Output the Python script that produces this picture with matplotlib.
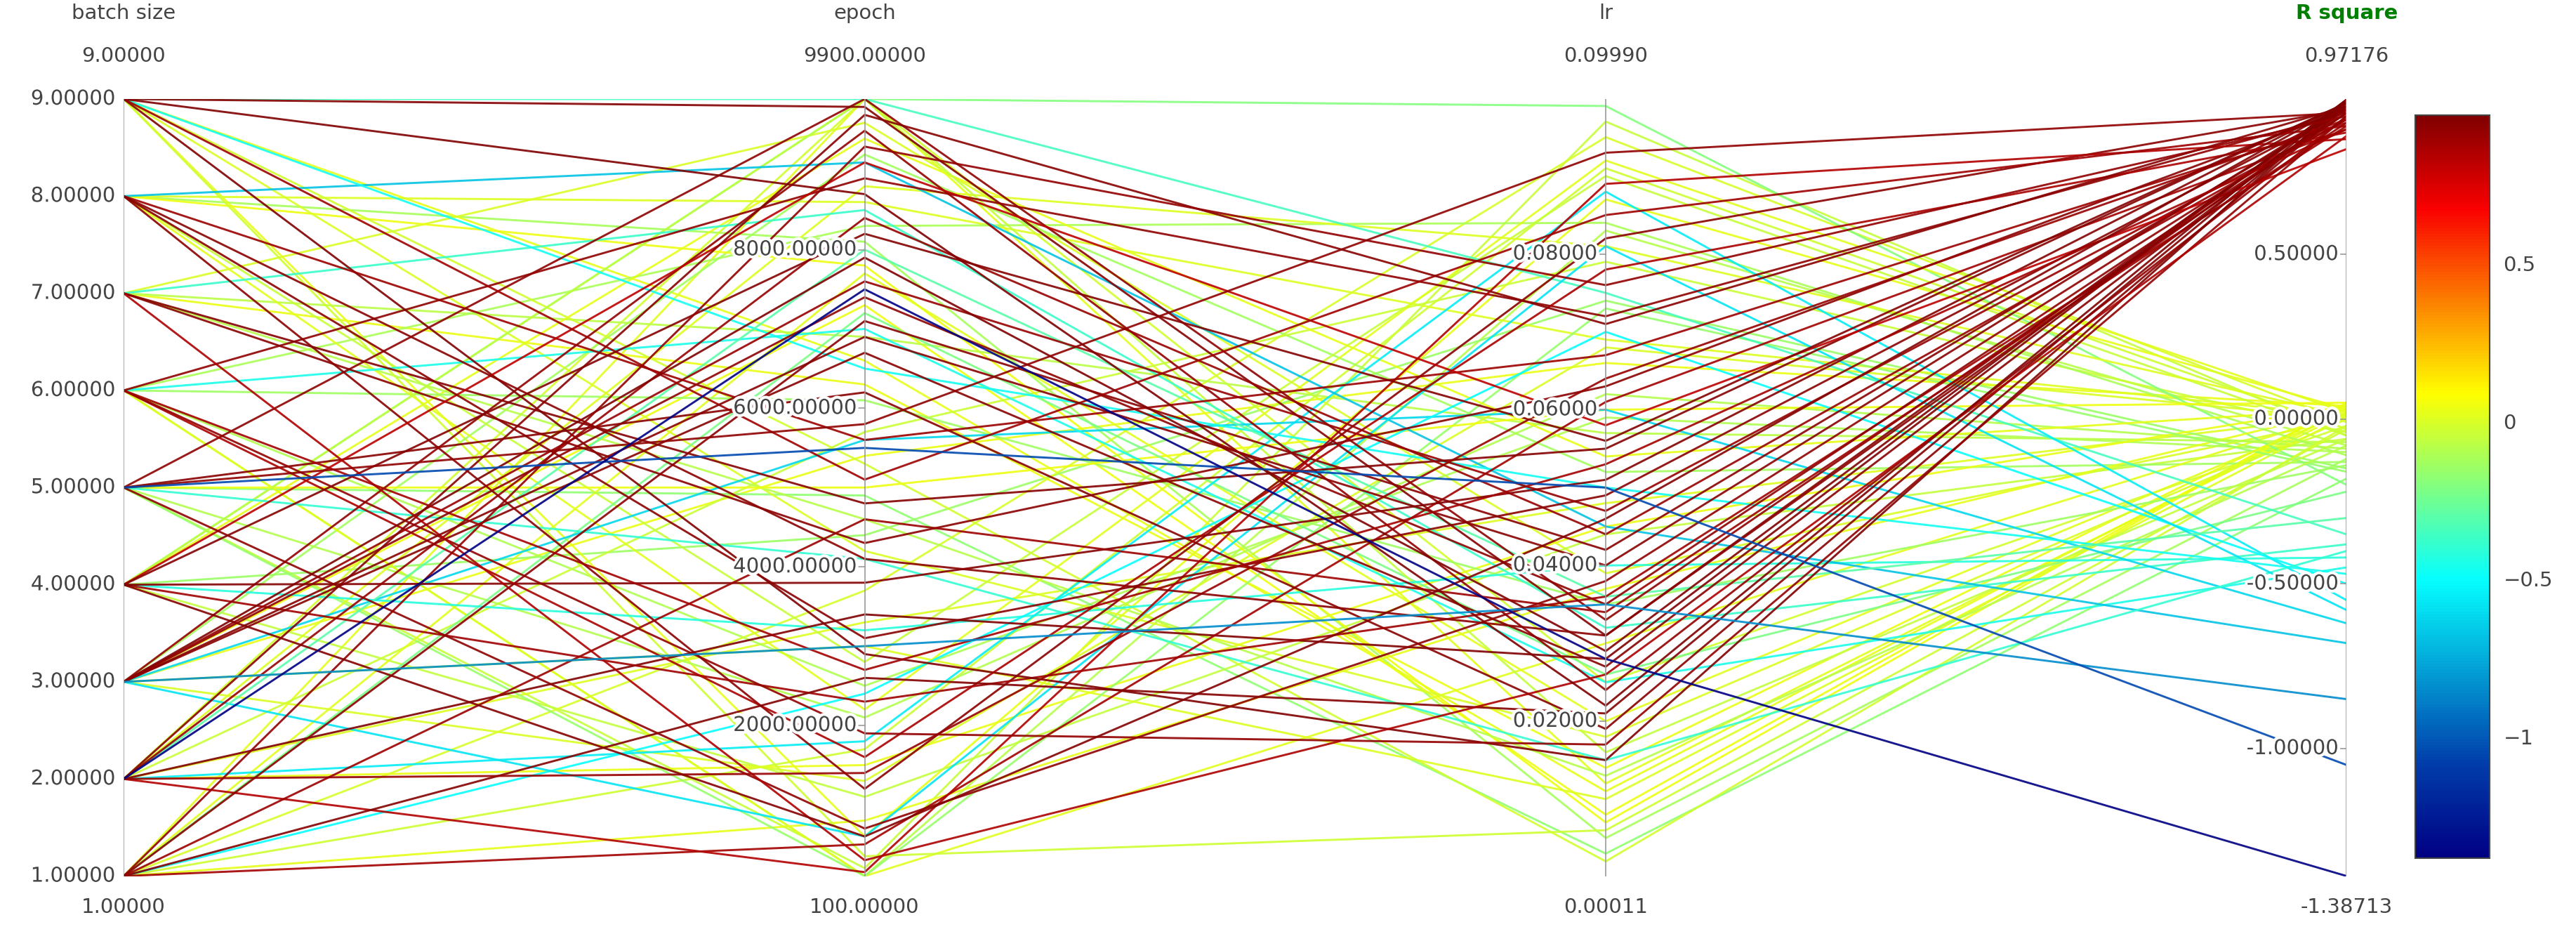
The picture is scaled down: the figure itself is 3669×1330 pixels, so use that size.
import matplotlib
matplotlib.use("Agg")
import matplotlib.pyplot as plt
import matplotlib.patheffects as pe
from matplotlib.colors import LinearSegmentedColormap, Normalize
import numpy as np

dims = ["batch size", "epoch", "lr", "R square"]
ranges = [(1.0, 9.0), (100.0, 9900.0), (0.00011, 0.0999), (-1.38713, 0.97176)]
ticks = [[2, 3, 4, 5, 6, 7, 8], [2000, 4000, 6000, 8000], [0.02, 0.04, 0.06, 0.08], [0.5, 0.0, -0.5, -1.0]]

batch = [9,8,3,2,1,5,6,4,7,3, 2,1,9,8,5,4,6,3,2,7, 1,4,5,9,3,8,6,2,1,4, 7,5,3,2,9,6,8,1,4,3,
         1,5,3,8,2,6,9,4,7,1, 3,6,2,9,5,8,4,7,1,3, 6,2,8,5,9,4,1,7,3,6, 2,9,5,1,8,4,7,3,6,2, 9,5,1,8,4,
         9,4,2,7,3,6,1,8,5,3,9,2,
         3,5,2]
epoch = [9800,1200,7600,3400,500,6200,8900,2300,4800,9500, 150,7100,2900,5600,9900,3800,1600,6700,8400,4300,
         2600,9100,700,5100,7900,3100,1900,9700,4600,8200, 300,5800,6900,1400,8700,2700,4100,9300,600,7400,
         9900,200,5400,8100,3300,100,6600,4400,9600,1700, 7300,2500,9900,600,4900,8600,1100,6300,3700,9200,
         100,5700,7800,2100,4200,9900,800,6900,3000,8300, 1500,5300,100,7700,2800,9400,4600,1300,6100,8800,
         350,5000,7200,2200,9900,
         9900,3200,1800,8500,5600,7000,2400,9100,4100,600,6500,8000,
         3000,5500,7500]
lr = [0.031,0.082,0.047,0.028,0.061,0.019,0.072,0.036,0.055,0.024, 0.089,0.042,0.015,0.067,0.033,0.051,0.078,0.027,0.044,0.063,
      0.021,0.058,0.038,0.085,0.029,0.049,0.017,0.071,0.034,0.056, 0.026,0.093,0.040,0.064,0.022,0.053,0.031,0.076,0.046,0.035,
      0.012,0.097,0.066,0.005,0.048,0.083,0.011,0.074,0.039,0.091, 0.008,0.059,0.025,0.087,0.003,0.069,0.044,0.014,0.095,0.052,
      0.030,0.079,0.007,0.062,0.018,0.099,0.037,0.057,0.010,0.084, 0.045,0.002,0.073,0.020,0.090,0.054,0.013,0.068,0.035,0.081,
      0.006,0.060,0.026,0.092,0.016,
      0.075,0.040,0.088,0.032,0.060,0.025,0.070,0.045,0.015,0.081,0.050,0.036,
      0.035,0.050,0.028]
r2 = [0.96,0.94,0.91,0.97,0.88,0.95,0.93,0.89,0.96,0.92, 0.85,0.94,0.97,0.90,0.93,0.96,0.87,0.95,0.91,0.94,
      0.96,0.82,0.93,0.89,0.97,0.94,0.92,0.95,0.90,0.96, 0.86,0.93,0.95,0.91,0.97,0.88,0.94,0.92,0.96,0.93,
      0.02,-0.05,0.04,-0.12,0.01,-0.08,0.03,-0.15,0.00,-0.03, 0.05,-0.10,-0.02,0.03,-0.18,0.01,-0.06,0.04,-0.01,-0.13,
      0.02,-0.04,0.05,-0.09,0.00,-0.20,0.03,-0.07,0.01,-0.11, 0.04,-0.02,-0.16,0.02,-0.05,0.03,-0.08,0.00,-0.14,0.01,
      -0.03,0.05,-0.22,0.02,-0.06,
      -0.35,-0.42,-0.55,-0.38,-0.62,-0.45,-0.50,-0.68,-0.40,-0.58,-0.47,-0.30,
      -0.85,-1.05,-1.38713]

jet = LinearSegmentedColormap.from_list("pjet", [
    (0, (0/255, 0/255, 131/255)), (0.125, (0/255, 60/255, 170/255)),
    (0.375, (5/255, 255/255, 255/255)), (0.625, (255/255, 255/255, 0)),
    (0.875, (250/255, 0, 0)), (1, (128/255, 0, 0))])
norm = Normalize(ranges[3][0], ranges[3][1])

fig = plt.figure(figsize=(36.69, 13.30), dpi=100)
ax = fig.add_axes([0.048, 0.062, 0.863, 0.832])
ax.set_xlim(0, 3); ax.set_ylim(0, 1); ax.axis("off")

data = np.array([batch, epoch, lr, r2], dtype=float)
nd = np.array([(data[i] - ranges[i][0]) / (ranges[i][1] - ranges[i][0]) for i in range(4)])
order = []
order += [k for k in range(len(r2)) if -0.25 < r2[k] < 0.3]
order += [k for k in range(len(r2)) if -0.8 < r2[k] <= -0.25]
order += [k for k in range(len(r2)) if r2[k] >= 0.3]
order += [k for k in range(len(r2)) if r2[k] <= -0.8]
for k in order:
    ax.plot(range(4), nd[:, k], color=jet(norm(r2[k])), lw=2.1, alpha=0.9, solid_capstyle="round")

halo = [pe.withStroke(linewidth=6, foreground="white")]
fmt = lambda v: f"{v:.5f}"
for i in range(4):
    ax.plot([i, i], [0, 1], color="#999999", lw=1.2, zorder=5)
    lo, hi = ranges[i]
    for t in ticks[i]:
        y = (t - lo) / (hi - lo)
        ax.plot([i - 0.008, i], [y, y], color="#999999", lw=1.2, zorder=5)
        ax.text(i - 0.012, y, fmt(t), ha="right", va="center", fontsize=21, color="#444444",
                path_effects=halo, zorder=6)
    if i == 0:
        for y, t in [(0, 1.0), (1, 9.0)]:
            ax.text(i - 0.012, y, fmt(t), ha="right", va="center", fontsize=21, color="#444444",
                    path_effects=halo, zorder=6)
    ax.text(i, 1.055, fmt(hi), ha="center", va="center", fontsize=21, color="#444444", clip_on=False)
    ax.text(i, -0.04, fmt(lo), ha="center", va="center", fontsize=21, color="#444444", clip_on=False)
    ax.text(i, 1.11, dims[i], ha="center", va="center", fontsize=21, clip_on=False,
            color="green" if i == 3 else "#444444", fontweight="bold" if i == 3 else "normal")

cax = fig.add_axes([0.9375, 0.081, 0.029, 0.796])
sm = plt.cm.ScalarMappable(norm=norm, cmap=jet)
cb = fig.colorbar(sm, cax=cax, ticks=[0.5, 0, -0.5, -1])
cb.ax.set_yticklabels(["0.5", "0", "\u22120.5", "\u22121"])
cb.ax.tick_params(labelsize=21, colors="#444444", length=0, pad=14)
cb.outline.set_edgecolor("#444444"); cb.outline.set_linewidth(1.5)

fig.savefig("out.png", dpi=100)
